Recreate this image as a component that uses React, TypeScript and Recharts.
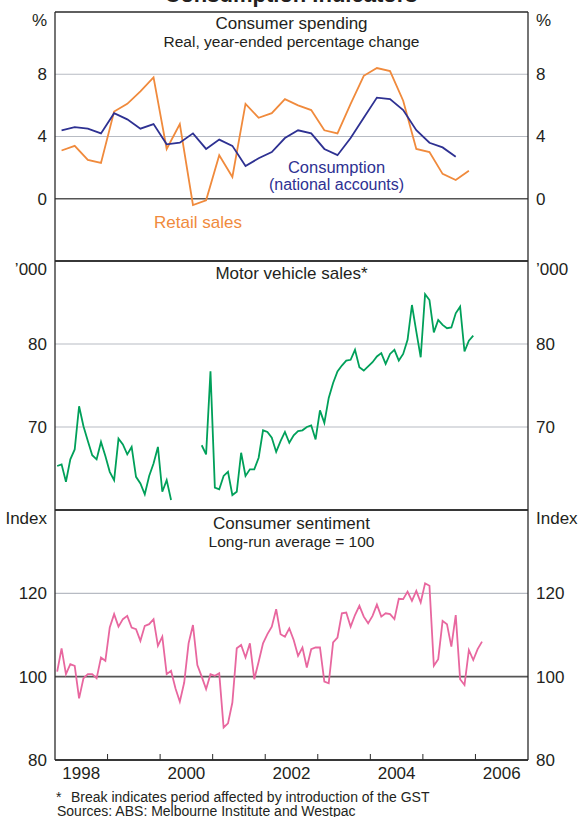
import { Line, LineChart, ReferenceLine, XAxis, YAxis } from "recharts";

// Quarterly, Q1 1998 onwards (year-ended % change)
const consumption = [
  4.4, 4.6, 4.5, 4.2, 5.5, 5.1, 4.5, 4.8, 3.5, 3.6, 4.2, 3.2, 3.8, 3.4, 2.1, 2.6,
  3.0, 3.9, 4.4, 4.2, 3.2, 2.8, 3.9, 5.2, 6.5, 6.4, 5.7, 4.4, 3.6, 3.3, 2.7,
];
const retailSales = [
  3.1, 3.4, 2.5, 2.3, 5.6, 6.1, 6.9, 7.8, 3.2, 4.8, -0.4, -0.1, 2.8, 1.4, 6.1, 5.2,
  5.5, 6.4, 6.0, 5.7, 4.4, 4.2, 6.1, 7.9, 8.4, 8.2, 6.3, 3.2, 3.0, 1.6, 1.2, 1.8,
];

// Monthly, Jan 1998 - Dec 2005, '000 (break around the GST)
const motorVehicleSales: (number | null)[] = [
  65.3, 65.5, 63.4, 66.1, 67.3, 72.5, 70.1, 68.3, 66.6, 66.1, 68.2, 66.5,
  64.6, 63.6, 68.6, 67.9, 66.7, 67.6, 64.0, 63.2, 61.9, 64.1, 65.6, 67.6,
  62.2, 63.6, 61.2, null, null, null, null, null, null, 67.8, 66.7, 76.7,
  62.7, 62.5, 64.1, 64.6, 61.8, 62.2, 66.9, 64.1, 64.9, 64.9, 66.3, 69.6,
  69.4, 68.7, 67.0, 68.3, 69.4, 68.1, 69.0, 69.5, 69.6, 70.0, 70.2, 68.5,
  72.0, 70.5, 73.5, 75.3, 76.7, 77.4, 78.0, 78.1, 79.3, 77.2, 76.8, 77.3,
  77.8, 78.5, 78.9, 77.6, 78.8, 79.3, 78.0, 78.8, 80.5, 84.7, 81.5, 78.4,
  86.0, 85.3, 81.4, 82.9, 82.3, 81.9, 82.0, 83.7, 84.5, 79.1, 80.4, 81.0,
];

// Monthly, Jan 1998 - Feb 2006, index
const consumerSentiment = [
  101.2, 106.8, 100.6, 103.0, 102.6, 94.8, 99.6, 100.6, 100.6, 99.6, 104.6, 103.8,
  111.8, 115.0, 112.0, 113.8, 114.6, 111.8, 111.4, 108.6, 112.2, 112.6, 113.8, 107.4,
  109.6, 100.6, 101.4, 97.2, 94.0, 98.6, 108.0, 112.4, 102.8, 100.0, 97.0, 100.6,
  100.2, 100.8, 87.8, 88.8, 93.8, 106.8, 107.6, 104.6, 108.0, 99.4, 103.6, 108.0,
  110.2, 112.0, 116.2, 110.2, 109.6, 111.6, 108.8, 105.0, 107.0, 102.2, 106.6, 107.0,
  107.0, 98.8, 98.4, 108.2, 109.4, 115.2, 115.4, 112.0, 114.8, 117.0, 114.4, 112.8,
  114.6, 117.3, 114.4, 115.2, 115.0, 113.8, 118.7, 118.6, 120.4, 118.2, 120.6, 117.8,
  122.4, 121.8, 102.6, 104.2, 113.4, 112.6, 107.2, 114.8, 99.4, 98.0, 106.4, 104.0,
  106.6, 108.4,
];

const yearLabels = ["1998", "2000", "2002", "2004", "2006"];
const yearBreaks = [1999, 2000, 2001, 2002, 2003, 2004, 2005, 2006];

const spendingTicks = [-4, 0, 4, 8, 12];
const vehicleTicks = [60, 70, 80, 90];
const sentimentTicks = [80, 100, 120, 140];

const FONT = "'Liberation Sans', Arial, Helvetica, sans-serif";
const INK = "#231f20";
const FRAME = "#2a2a2a";
const GRID = "#b7bbc3";
const ZERO = "#555555";
const BLUE = "#2e3192";
const ORANGE = "#f08a3c";
const GREEN = "#00a05a";
const PINK = "#e8679f";

const W = 579;
const LEFT_W = 55;
const RIGHT_W = 51;

// mid-period positions on a continuous year axis
const quarterTime = (i: number) => 1998 + (i + 0.5) / 4;
const monthTime = (i: number) => 1998 + (i + 0.5) / 12;

const spendingData = retailSales.map((r, i) => ({
  t: quarterTime(i),
  retail: r,
  cons: i < consumption.length ? consumption[i] : null,
}));
const vehicleData = motorVehicleSales.map((v, i) => ({ t: monthTime(i), v }));
const sentimentData = consumerSentiment.map((v, i) => ({ t: monthTime(i), v }));

const makeYTick =
  (side: "left" | "right", top: number, unit: string, hidden: number[]) =>
  (props: any) => {
    const { x, y, payload } = props;
    const v = payload.value;
    if (hidden.includes(v)) return <g />;
    const isUnit = v === top;
    return (
      <text
        x={x}
        y={y + (isUnit ? 8 : 0)}
        dy="0.35em"
        textAnchor={side === "left" ? "end" : "start"}
        fontSize={17}
        fontFamily={FONT}
        fill={INK}
      >
        {isUnit ? unit : v}
      </text>
    );
  };

const makeXTick = (plotBottom: number) => (props: any) => {
  const { x, payload } = props;
  const v = payload.value;
  if (Number.isInteger(v)) {
    return <line x1={x} x2={x} y1={plotBottom} y2={plotBottom - 6} stroke={FRAME} strokeWidth={1} />;
  }
  return (
    <text x={x} y={plotBottom + 19} textAnchor="middle" fontSize={17} fontFamily={FONT} fill={INK}>
      {String(v - 0.5)}
    </text>
  );
};

const axisLine = { stroke: FRAME, strokeWidth: 1.3 };

// top/bottom edges of a panel, drawn on the domain limits
const edges = (lo: number, hi: number) => [
  <ReferenceLine key="lo" xAxisId="b" yAxisId="l" y={lo} stroke={FRAME} strokeWidth={1.3} />,
  <ReferenceLine key="hi" xAxisId="b" yAxisId="l" y={hi} stroke={FRAME} strokeWidth={1.3} />,
];

export default function App() {
  const xDomain: [number, number] = [1998, 2007];
  const bottomTicks = [
    ...yearLabels.map((y) => Number(y) + 0.5),
    ...yearBreaks,
  ].sort((a, b) => a - b);

  return (
    <div style={{ position: "absolute", left: 0, top: 0, width: W, height: 817, background: "#fff", overflow: "hidden" }}>
      {/* Consumer spending */}
      <div style={{ position: "absolute", left: 0, top: 0 }}>
        <LineChart width={W} height={266} data={spendingData} margin={{ top: 12, right: 0, bottom: 5, left: 0 }}>
          <XAxis xAxisId="b" type="number" dataKey="t" domain={xDomain} allowDataOverflow hide />
          <YAxis yAxisId="l" width={LEFT_W} type="number" domain={[-4, 12]} ticks={spendingTicks} interval={0} allowDataOverflow tickLine={false} axisLine={axisLine} tick={makeYTick("left", 12, "%", [-4])} />
          <YAxis yAxisId="r" orientation="right" width={RIGHT_W} type="number" domain={[-4, 12]} ticks={spendingTicks} interval={0} allowDataOverflow tickLine={false} axisLine={axisLine} tick={makeYTick("right", 12, "%", [-4])} />
          <ReferenceLine xAxisId="b" yAxisId="l" y={4} stroke={GRID} strokeWidth={1.2} />
          <ReferenceLine xAxisId="b" yAxisId="l" y={8} stroke={GRID} strokeWidth={1.2} />
          <ReferenceLine xAxisId="b" yAxisId="l" y={0} stroke={ZERO} strokeWidth={1.6} />
          {edges(-4, 12)}
          <Line xAxisId="b" yAxisId="l" dataKey="retail" stroke={ORANGE} strokeWidth={1.8} dot={false} isAnimationActive={false} type="linear" />
          <Line xAxisId="b" yAxisId="l" dataKey="cons" stroke={BLUE} strokeWidth={1.8} dot={false} isAnimationActive={false} type="linear" connectNulls={false} />
        </LineChart>
      </div>

      {/* Motor vehicle sales */}
      <div style={{ position: "absolute", left: 0, top: 256 }}>
        <LineChart width={W} height={259} data={vehicleData} margin={{ top: 5, right: 0, bottom: 5, left: 0 }}>
          <XAxis xAxisId="b" type="number" dataKey="t" domain={xDomain} allowDataOverflow hide />
          <YAxis yAxisId="l" width={LEFT_W} type="number" domain={[60, 90]} ticks={vehicleTicks} interval={0} allowDataOverflow tickLine={false} axisLine={axisLine} tick={makeYTick("left", 90, "\u2019000", [60])} />
          <YAxis yAxisId="r" orientation="right" width={RIGHT_W} type="number" domain={[60, 90]} ticks={vehicleTicks} interval={0} allowDataOverflow tickLine={false} axisLine={axisLine} tick={makeYTick("right", 90, "\u2019000", [60])} />
          <ReferenceLine xAxisId="b" yAxisId="l" y={70} stroke={GRID} strokeWidth={1.2} />
          <ReferenceLine xAxisId="b" yAxisId="l" y={80} stroke={GRID} strokeWidth={1.2} />
          {edges(60, 90)}
          <Line xAxisId="b" yAxisId="l" dataKey="v" stroke={GREEN} strokeWidth={1.8} dot={false} isAnimationActive={false} type="linear" connectNulls={false} />
        </LineChart>
      </div>

      {/* Consumer sentiment */}
      <div style={{ position: "absolute", left: 0, top: 505 }}>
        <LineChart width={W} height={285} data={sentimentData} margin={{ top: 5, right: 0, bottom: 0, left: 0 }}>
          <XAxis xAxisId="b" type="number" dataKey="t" domain={xDomain} allowDataOverflow height={30} ticks={bottomTicks} interval={0} tickLine={false} axisLine={axisLine} tick={makeXTick(255)} />
          <YAxis yAxisId="l" width={LEFT_W} type="number" domain={[80, 140]} ticks={sentimentTicks} interval={0} allowDataOverflow tickLine={false} axisLine={axisLine} tick={makeYTick("left", 140, "Index", [])} />
          <YAxis yAxisId="r" orientation="right" width={RIGHT_W} type="number" domain={[80, 140]} ticks={sentimentTicks} interval={0} allowDataOverflow tickLine={false} axisLine={axisLine} tick={makeYTick("right", 140, "Index", [])} />
          <ReferenceLine xAxisId="b" yAxisId="l" y={120} stroke={GRID} strokeWidth={1.2} />
          <ReferenceLine xAxisId="b" yAxisId="l" y={100} stroke={ZERO} strokeWidth={1.6} />
          {edges(80, 140)}
          <Line xAxisId="b" yAxisId="l" dataKey="v" stroke={PINK} strokeWidth={1.8} dot={false} isAnimationActive={false} type="linear" />
        </LineChart>
      </div>

      {/* titles, series labels and notes */}
      <svg width={W} height={817} style={{ position: "absolute", left: 0, top: 0, pointerEvents: "none" }} fontFamily={FONT}>
        <text x={291} y={2} textAnchor="middle" fontSize={22} fontWeight="bold" fill={INK}>Consumption Indicators</text>
        <text x={291.5} y={29} textAnchor="middle" fontSize={17} fill={INK}>Consumer spending</text>
        <text x={291.5} y={47} textAnchor="middle" fontSize={15.5} fill={INK}>Real, year-ended percentage change</text>
        <text x={336.5} y={173} textAnchor="middle" fontSize={16.5} fill={BLUE}>Consumption</text>
        <text x={336.5} y={190} textAnchor="middle" fontSize={16} fill={BLUE}>(national accounts)</text>
        <text x={198} y={228} textAnchor="middle" fontSize={17} fill={ORANGE}>Retail sales</text>
        <text x={291.5} y={279} textAnchor="middle" fontSize={17} fill={INK}>Motor vehicle sales*</text>
        <text x={291.5} y={529} textAnchor="middle" fontSize={17} fill={INK}>Consumer sentiment</text>
        <text x={291.5} y={547} textAnchor="middle" fontSize={15.5} fill={INK}>Long-run average = 100</text>
        <text x={56} y={802} fontSize={14} fill={INK}>*</text>
        <text x={71} y={802} fontSize={14} fill={INK}>Break indicates period affected by introduction of the GST</text>
        <text x={57} y={816} fontSize={14} fill={INK}>Sources: ABS: Melbourne Institute and Westpac</text>
      </svg>
    </div>
  );
}
